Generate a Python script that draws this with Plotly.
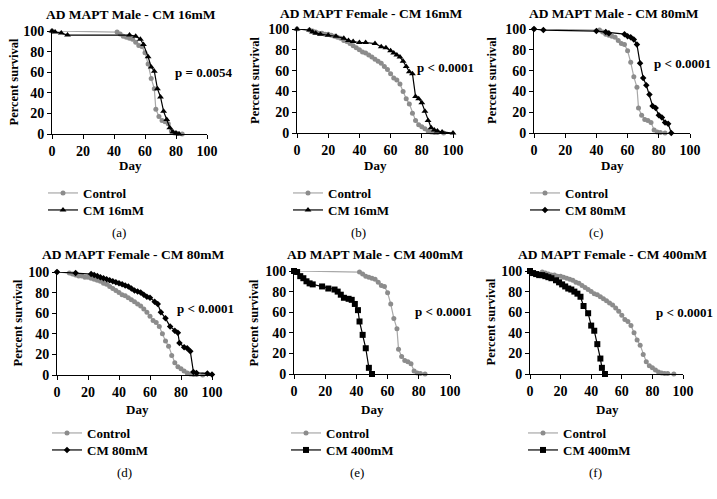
import plotly.graph_objects as go

# ---------------- data ----------------
# Male control (panels a, c, e)
male_ctrl_day = [0, 42, 44, 46, 48, 50, 52, 54, 56, 58, 60, 62, 64, 66, 67, 69, 71, 73, 75, 77, 79, 81, 84]
male_ctrl_surv = [100, 99, 97, 95, 94, 93, 92, 89, 86, 85, 79, 68, 54, 44, 24, 17, 13, 12, 10, 3, 1, 0.5, 0]

# Female control (panels b, d, f)
female_ctrl_day = [0, 8, 10, 12, 14, 16, 18, 20, 22, 24, 26, 28, 30, 32, 34, 36, 38, 40, 42, 44, 46, 48, 50,
                   52, 54, 56, 58, 60, 62, 64, 66, 68, 70, 72, 74, 76, 78, 80, 82, 84, 86, 88, 90, 94]
female_ctrl_surv = [100, 99, 98, 97, 96, 96, 95, 95, 94, 93, 92, 91, 89, 88, 86, 84, 82, 80, 78, 77, 75, 73, 71,
                    69, 67, 64, 61, 57, 53, 51, 47, 40, 33, 28, 19, 12, 8, 6, 4, 2, 1, 0.5, 0.5, 0]

# (a) Male CM 16mM
cm16_male_day = [0, 2, 6, 10, 50, 54, 57, 59, 62, 64, 66, 68, 70, 72, 74, 76, 78, 80, 82]
cm16_male_surv = [100, 99, 98, 96, 96, 95, 92, 87, 75, 65, 61, 44, 36, 22, 14, 6, 2, 1, 0]

# (b) Female CM 16mM
cm16_female_day = [0, 8, 10, 12, 15, 20, 25, 30, 33, 36, 40, 44, 50, 54, 57, 60, 62, 64, 66, 68, 70, 72, 74,
                   76, 78, 80, 82, 84, 86, 88, 90, 93, 100]
cm16_female_surv = [100, 99, 97, 96, 95, 94, 93, 91, 89, 88, 87, 87, 86, 83, 82, 79, 77, 75, 73, 69, 64, 59, 57,
                    35, 33, 29, 21, 12, 5, 3, 2, 1, 0]

# (c) Male CM 80mM
cm80_male_day = [0, 6, 40, 46, 48, 58, 60, 62, 64, 66, 68, 70, 72, 74, 76, 78, 80, 82, 84, 86, 88]
cm80_male_surv = [100, 99, 98, 97, 96, 95, 93, 92, 90, 85, 67, 53, 46, 37, 26, 24, 17, 15, 10, 9, 0]

# (d) Female CM 80mM
cm80_female_day = [0, 12, 22, 24, 26, 28, 30, 32, 34, 36, 38, 40, 42, 44, 46, 48, 50, 52, 54, 56, 58, 60,
                   63, 65, 67, 70, 73, 76, 78, 79, 82, 84, 86, 88, 90, 97, 100]
cm80_female_surv = [100, 99, 98, 97, 96, 95, 94, 93, 92, 91, 90, 89, 88, 87, 86, 84, 82, 81, 80, 78, 76, 75,
                    71, 69, 61, 55, 47, 43, 41, 31, 27, 26, 23, 3, 2, 1.5, 0.5]

# (e) Male CM 400mM
cm400_male_day = [0, 2, 4, 6, 8, 10, 12, 18, 22, 26, 28, 30, 32, 35, 37, 39, 41, 42, 44, 46, 48, 50]
cm400_male_surv = [100, 99, 95, 93, 90, 88, 87, 85, 83, 82, 80, 77, 74, 73, 72, 68, 62, 51, 38, 25, 6, 0]

# (f) Female CM 400mM
cm400_female_day = [0, 2, 4, 6, 8, 10, 12, 14, 17, 19, 21, 23, 25, 27, 29, 31, 33, 35, 38, 40, 42, 44, 46, 47, 49]
cm400_female_surv = [100, 98, 97, 96, 96, 95, 94, 93, 91, 89, 87, 85, 83, 82, 80, 78, 75, 66, 59, 47, 42, 29, 15, 6, 0]

titles = ["AD MAPT Male - CM 16mM", "AD MAPT Female - CM 16mM", "AD MAPT Male - CM 80mM",
          "AD MAPT Female - CM 80mM", "AD MAPT Male - CM 400mM", "AD MAPT Female - CM 400mM"]
treat_names = ["CM 16mM", "CM 16mM", "CM 80mM", "CM 80mM", "CM 400mM", "CM 400mM"]
p_values = ["p = 0.0054", "p < 0.0001", "p < 0.0001", "p < 0.0001", "p < 0.0001", "p < 0.0001"]
letters = ["(a)", "(b)", "(c)", "(d)", "(e)", "(f)"]
tick_vals = [0, 20, 40, 60, 80, 100]

ctrl_days = [male_ctrl_day, female_ctrl_day, male_ctrl_day, female_ctrl_day, male_ctrl_day, female_ctrl_day]
ctrl_survs = [male_ctrl_surv, female_ctrl_surv, male_ctrl_surv, female_ctrl_surv, male_ctrl_surv, female_ctrl_surv]
trt_days = [cm16_male_day, cm16_female_day, cm80_male_day, cm80_female_day, cm400_male_day, cm400_female_day]
trt_survs = [cm16_male_surv, cm16_female_surv, cm80_male_surv, cm80_female_surv, cm400_male_surv, cm400_female_surv]

# ---------------- layout geometry (page pixels) ----------------
W, H = 717, 499

# plot area: left, right, top, bottom
boxes = [(52, 207, 31, 134), (297, 453, 29, 133), (534, 690, 29, 133),
         (57, 212, 272, 375), (294, 450, 271, 374), (530, 683, 271, 374)]
title_pos = [(131, 14), (371, 13), (614, 13), (133, 255), (375, 255), (612, 255)]
pval_pos = [(173, 72), (415, 67), (652, 63), (175, 308), (413, 311), (654, 312)]
day_pos = [(130, 165), (375, 165), (612, 165), (137, 409), (372, 409), (607, 409)]
ylab_x = [13, 255, 492, 17, 253, 490]
legend_pos = [(83, 193), (328, 193), (565, 193), (87, 433), (326, 433), (563, 433)]
legend_gap = 17
letter_pos = [(119, 232), (358, 232), (596, 232), (124, 472), (357, 472), (595, 472)]
symbols = ["triangle-up", "triangle-up", "diamond", "diamond", "square", "square"]
sym_size = [6, 6, 5, 5, 6, 6]

FONT = "Liberation Serif"
GRAY_LINE = "#a8a8a8"
GRAY_MARK = "#8c8c8c"


def px(x):
    return x / W


def py(y):
    return 1 - y / H


fig = go.Figure()
annotations = []
layout_extra = {}

for i in range(6):
    n = i + 1
    xa = "x" if n == 1 else f"x{n}"
    ya = "y" if n == 1 else f"y{n}"
    leg_c = "legend" if i == 0 else f"legend{2 * i + 1}"
    leg_t = f"legend{2 * i + 2}"
    l, r, t, b = boxes[i]

    fig.add_trace(go.Scatter(
        x=ctrl_days[i], y=ctrl_survs[i], mode="lines+markers", name="Control",
        line=dict(color=GRAY_LINE, width=1.2),
        marker=dict(symbol="circle", size=5, color=GRAY_MARK),
        xaxis=xa, yaxis=ya, legend=leg_c, cliponaxis=False))
    fig.add_trace(go.Scatter(
        x=trt_days[i], y=trt_survs[i], mode="lines+markers", name=treat_names[i],
        line=dict(color="black", width=1.2),
        marker=dict(symbol=symbols[i], size=sym_size[i], color="black"),
        xaxis=xa, yaxis=ya, legend=leg_t, cliponaxis=False))

    axkw = dict(range=[0, 100], tickvals=tick_vals, ticks="outside", ticklen=4, tickwidth=1,
                tickcolor="black", showline=True, linecolor="black", linewidth=1,
                showgrid=False, zeroline=False, fixedrange=True,
                tickfont=dict(family=FONT, size=14, color="black", weight="bold"))
    layout_extra["xaxis" if n == 1 else f"xaxis{n}"] = dict(
        domain=[px(l), px(r)], anchor=ya, **axkw)
    layout_extra["yaxis" if n == 1 else f"yaxis{n}"] = dict(
        domain=[py(b), py(t)], anchor=xa, **axkw)

    lx, ly = legend_pos[i]
    for k, leg in enumerate([leg_c, leg_t]):
        layout_extra[leg] = dict(
            x=px(lx - 40), y=py(ly + k * legend_gap), xanchor="left", yanchor="middle",
            bgcolor="rgba(0,0,0,0)", itemwidth=30,
            font=dict(family=FONT, size=13, color="black", weight="bold"))

    annotations.append(dict(text=titles[i], x=px(title_pos[i][0]), y=py(title_pos[i][1]),
                            xref="paper", yref="paper", showarrow=False, xanchor="center", yanchor="middle",
                            font=dict(family=FONT, size=13.5, color="black", weight="bold")))
    annotations.append(dict(text=p_values[i], x=px(pval_pos[i][0]), y=py(pval_pos[i][1]),
                            xref="paper", yref="paper", showarrow=False, xanchor="left", yanchor="middle",
                            font=dict(family=FONT, size=13, color="black", weight="bold")))
    annotations.append(dict(text="Day", x=px(day_pos[i][0]), y=py(day_pos[i][1]),
                            xref="paper", yref="paper", showarrow=False, xanchor="center", yanchor="middle",
                            font=dict(family=FONT, size=13, color="black", weight="bold")))
    annotations.append(dict(text="Percent survival", x=px(ylab_x[i]), y=py((t + b) / 2),
                            xref="paper", yref="paper", showarrow=False, xanchor="center", yanchor="middle",
                            textangle=-90,
                            font=dict(family=FONT, size=12.5, color="black", weight="bold")))
    annotations.append(dict(text=letters[i], x=px(letter_pos[i][0]), y=py(letter_pos[i][1]),
                            xref="paper", yref="paper", showarrow=False, xanchor="center", yanchor="middle",
                            font=dict(family=FONT, size=13, color="black")))

fig.update_layout(
    width=W, height=H, margin=dict(l=0, r=0, t=0, b=0, autoexpand=False),
    paper_bgcolor="white", plot_bgcolor="white",
    annotations=annotations, showlegend=True,
    **layout_extra)

# remove the default page margin so the 717x499 figure fills the window exactly
fig.write_html("out.html",
               config={"displayModeBar": False},
               post_script="document.body.style.margin='0';document.body.style.overflow='hidden';")
